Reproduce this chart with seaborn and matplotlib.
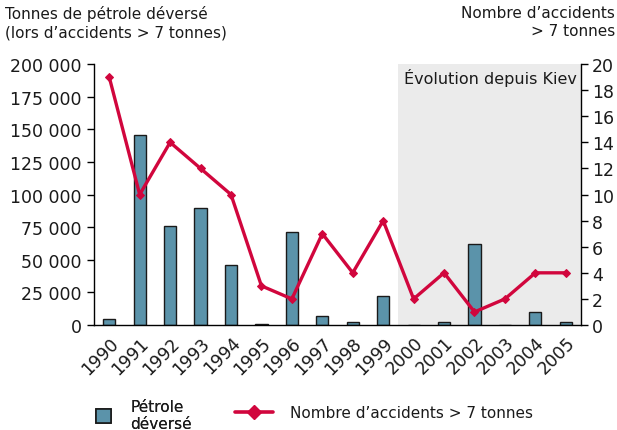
import numpy as np
import pandas as pd
import matplotlib
matplotlib.use("Agg")
import matplotlib.pyplot as plt
import matplotlib.transforms as mtransforms
import seaborn as sns
from matplotlib.patches import Patch
from matplotlib.lines import Line2D

years = ["1990", "1991", "1992", "1993", "1994", "1995", "1996", "1997",
         "1998", "1999", "2000", "2001", "2002", "2003", "2004", "2005"]
oil_tonnes = [4500, 146000, 76000, 90000, 46000, 400, 71000, 7000,
              2500, 22500, 300, 2500, 62000, 300, 10000, 2000]
accidents = [19, 10, 14, 12, 10, 3, 2, 7, 4, 8, 2, 4, 1, 2, 4, 4]
left_ticks = [0, 25000, 50000, 75000, 100000, 125000, 150000, 175000, 200000]
left_ticklabels = ["0", "25 000", "50 000", "75 000", "100 000", "125 000",
                   "150 000", "175 000", "200 000"]
right_ticks = [0, 2, 4, 6, 8, 10, 12, 14, 16, 18, 20]

bar_color = "#5b93aa"
line_color = "#d1063d"
shade_color = "#ebebeb"
text_color = "#1a1a1a"

sns.set_style("white")
plt.rcParams['font.family'] = ['DejaVu Sans']

df = pd.DataFrame({"year": years, "oil": oil_tonnes, "acc": accidents})
df["pos"] = np.arange(len(df))

fig = plt.figure(figsize=(6.17, 4.31), dpi=100)
ax = fig.add_axes([0.1524, 0.2436, 0.7893, 0.6054])
ax2 = ax.twinx()

ax.axvspan(9.5, 15.5, color=shade_color, zorder=0, lw=0)
sns.barplot(data=df, x="year", y="oil", ax=ax, color=bar_color,
            edgecolor="#1a1a1a", linewidth=1.0, width=0.4, saturation=1, zorder=2)
sns.lineplot(data=df, x="pos", y="acc", ax=ax2, color=line_color, lw=2.4,
             marker="D", markersize=4.5, markeredgecolor=line_color, zorder=3)

ax.set_xlim(-0.5, 15.5)
ax.set_ylim(0, 200000)
ax2.set_ylim(0, 20)
ax.set_yticks(left_ticks)
ax.set_yticklabels(left_ticklabels, fontsize=12.5, color=text_color)
ax2.set_yticks(right_ticks)
ax2.set_yticklabels([str(t) for t in right_ticks], fontsize=12.5, color=text_color)
ax.set_xticks(np.arange(len(years)))
ax.set_xticklabels(years, rotation=45, ha="right", rotation_mode="anchor",
                   fontsize=12.5, color=text_color)
offset = mtransforms.ScaledTranslation(5 / 100, 0, fig.dpi_scale_trans)
for lab in ax.get_xticklabels():
    lab.set_transform(lab.get_transform() + offset)
ax.set_xticks(np.arange(-0.5, len(years)), minor=True)
ax.tick_params(axis="x", which="major", length=0, pad=6)
ax.tick_params(axis="x", which="minor", length=5, width=1, direction="out", color="black")
ax.tick_params(axis="y", length=5, width=1, direction="out", color="black", pad=4)
ax2.tick_params(axis="y", length=5, width=1, direction="out", color="black", pad=3)
ax.set_xlabel("")
ax.set_ylabel("")
ax2.set_ylabel("")
ax2.set_xlabel("")

for a in (ax, ax2):
    a.spines["top"].set_visible(False)
    for s in ("left", "right", "bottom"):
        a.spines[s].set_color("black")
        a.spines[s].set_linewidth(1)
ax.spines["right"].set_visible(False)
ax2.spines["left"].set_visible(False)
ax2.spines["bottom"].set_visible(False)
ax.patch.set_visible(False)
ax2.patch.set_visible(False)
ax.set_zorder(1)
ax2.set_zorder(2)

ax.text(15.35, 190000, "Évolution depuis Kiev", ha="right", va="center",
        fontsize=11.5, color=text_color, zorder=4)

fig.text(0.008, 0.985, "Tonnes de pétrole déversé\n(lors d’accidents > 7 tonnes)",
         ha="left", va="top", fontsize=11, color=text_color, linespacing=1.25)
fig.text(0.997, 0.985, "Nombre d’accidents\n> 7 tonnes",
         ha="right", va="top", fontsize=11, color=text_color, linespacing=1.25)

leg1 = fig.legend([Patch(facecolor=bar_color, edgecolor="#1a1a1a", linewidth=1.2)],
                  ["Pétrole\ndéversé"], loc="center left",
                  bbox_to_anchor=(96 / 617, 1 - 416 / 431), frameon=False,
                  fontsize=11, handlelength=0.95, handleheight=1.0,
                  handletextpad=1.3, borderaxespad=0, borderpad=0,
                  labelcolor=text_color)
fig.add_artist(leg1)
fig.legend([Line2D([0], [0], color=line_color, lw=2.6, marker="D", markersize=7)],
           ["Nombre d’accidents > 7 tonnes"], loc="center left",
           bbox_to_anchor=(235 / 617, 1 - 414 / 431), frameon=False,
           fontsize=11, handlelength=2.5, handletextpad=1.1,
           borderaxespad=0, borderpad=0, labelcolor=text_color)

fig.savefig("out.png", dpi=100)
